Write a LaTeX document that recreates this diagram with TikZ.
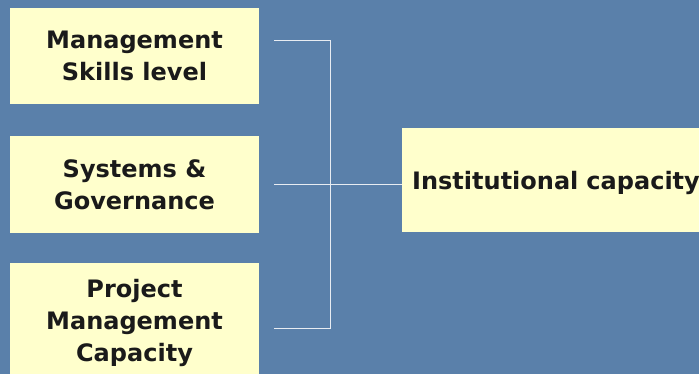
\documentclass[tikz,border=0pt]{standalone}
\usepackage{fontspec}
\setmainfont{DejaVu Sans}
\usetikzlibrary{calc}
\definecolor{slide}{RGB}{90,128,170}
\definecolor{boxfill}{RGB}{255,255,204}
\definecolor{ink}{RGB}{26,26,26}
\definecolor{wire}{RGB}{232,236,242}

\begin{document}
\begin{tikzpicture}[x=1pt,y=-1pt,
  box/.style={fill=boxfill,text=ink,font=\bfseries\fontsize{24}{32}\selectfont,
    align=center,minimum width=249pt,inner sep=0pt},
  link/.style={wire,line width=0.9pt}]
\useasboundingbox (0,0) rectangle (699,374);
\clip (0,0) rectangle (699,374);
\fill[slide] (0,0) rectangle (699,374);
% three inputs on the left
\node[box,minimum height=96pt] (skills) at (134.5,56) {Management\\Skills level};
\node[box,minimum height=97pt] (systems) at (134.5,184.5) {Systems \&\\Governance};
\node[box,minimum height=120pt] (project) at (134.5,323) {Project\\Management\\Capacity};
% result box, runs off the right edge
\node[box,anchor=west,minimum height=104pt,minimum width=320pt,text width=300pt,
  text depth=0pt,align=left,inner xsep=10pt] (inst) at (402,180) {Institutional capacity};
% bracket joining the inputs
\coordinate (s1) at ($(skills.east)+(15,-16)$);
\coordinate (s2) at ($(systems.east)+(15,0)$);
\coordinate (s3) at ($(project.east)+(15,5)$);
\coordinate (bus) at ($(s1)+(56,0)$);
\draw[link] (s1) -- (bus) |- (s3);
\draw[link] (s2) -- (s2 -| inst.west);
\end{tikzpicture}
\end{document}
